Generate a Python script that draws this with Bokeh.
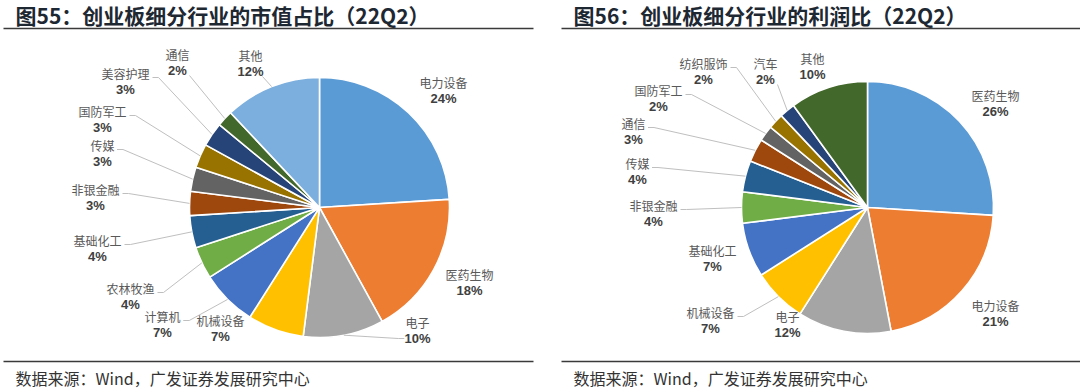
import numpy as np
from bokeh.plotting import figure
from bokeh.models import Range1d, ColumnDataSource
from bokeh.core.properties import value
from bokeh.embed import file_html
from bokeh.resources import INLINE

# ---------------- data ----------------
left_title = "图55：创业板细分行业的市值占比（22Q2）"
right_title = "图56：创业板细分行业的利润比（22Q2）"
source_note = "数据来源：Wind，广发证券发展研究中心"

left_names = ["电力设备", "医药生物", "电子", "机械设备", "计算机", "农林牧渔", "基础化工",
              "非银金融", "传媒", "国防军工", "美容护理", "通信", "其他"]
left_values = [24, 18, 10, 7, 7, 4, 4, 3, 3, 3, 3, 2, 12]

right_names = ["医药生物", "电力设备", "电子", "机械设备", "基础化工", "非银金融", "传媒",
               "通信", "国防军工", "纺织服饰", "汽车", "其他"]
right_values = [26, 21, 12, 7, 7, 4, 4, 3, 2, 2, 2, 10]

slice_colors = ["#5B9BD5", "#ED7D31", "#A5A5A5", "#FFC000", "#4472C4", "#70AD47", "#255E91",
                "#9E480E", "#636363", "#997300", "#264478", "#43682B", "#7CAFDD"]

# ---------------- layout (screen px) ----------------
W, H = 1080, 389
left_center, left_r = (319, 207), 130
right_center, right_r = (867, 207), 126

left_label_pos = [(443, 82), (469, 274), (417, 322), (220, 320), (162, 316), (130, 288), (97, 240),
                  (95, 189), (102, 145), (102, 111), (125, 73), (177, 54), (250, 55)]
left_leader = [None, None, "PL", None, "R", "R", "R", "R", "R", "R", "R", "B", "B"]

right_label_pos = [(995, 95), (995, 305), (787, 316), (710, 312), (712, 250), (653, 205), (637, 163),
                   (633, 123), (658, 90), (703, 63), (765, 63), (812, 58)]
right_leader = [None, None, None, "R", None, "R", "R", "R", "R", "R", "B", None]

CJK = value("Noto Sans CJK SC")
LAT = value("Liberation Sans")


def Y(ys):
    return H - np.asarray(ys, dtype=float)


p = figure(width=W, height=H, output_backend="svg", toolbar_location=None,
           x_range=Range1d(0, W), y_range=Range1d(0, H), min_border=0)
p.axis.visible = False
p.grid.visible = False
p.outline_line_color = None
p.background_fill_color = "white"
p.border_fill_color = "white"


def draw_pie(center, r, names, vals, label_pos, leaders):
    cx, cy = center
    v = np.asarray(vals, dtype=float)
    frac = v / v.sum()
    cum = np.concatenate([[0.0], np.cumsum(frac)])
    start = np.pi / 2 - cum[1:] * 2 * np.pi
    end = np.pi / 2 - cum[:-1] * 2 * np.pi
    src = ColumnDataSource(dict(start=start, end=end, color=slice_colors[:len(v)]))
    p.wedge(x=cx, y=H - cy, radius=r, start_angle="start", end_angle="end",
            fill_color="color", line_color="white", line_width=1.6, source=src)

    # leader lines
    mid = (cum[:-1] + cum[1:]) / 2 * 2 * np.pi   # clockwise from top
    xs_l, ys_l = [], []
    for i, mode in enumerate(leaders):
        if mode is None:
            continue
        tx = cx + r * np.sin(mid[i])
        ty = cy - r * np.cos(mid[i])
        lx, ly = label_pos[i]
        nw = len(names[i]) * 12.5
        pct_txt = f"{vals[i]}%"
        pw = len(pct_txt) * 7.5
        if mode == "R":
            ax, ay = lx + nw / 2 + 2, ly + 4
            pts = [(ax, ay), (ax + 6, ay), (tx, ty)]
        elif mode == "L":
            ax, ay = lx - nw / 2 - 2, ly + 4
            pts = [(ax, ay), (ax - 6, ay), (tx, ty)]
        elif mode == "PL":
            ax, ay = lx - pw / 2 - 2, ly + 16
            pts = [(ax, ay), (ax - 6, ay), (tx, ty)]
        else:  # "B"
            ax, ay = lx + 12, ly + 21
            pts = [(ax, ay), (tx, ty)]
        xs_l.append([q[0] for q in pts])
        ys_l.append(list(Y([q[1] for q in pts])))
    p.multi_line(xs=xs_l, ys=ys_l, line_color="#BFBFBF", line_width=1)

    lx = [q[0] for q in label_pos]
    ly = [q[1] for q in label_pos]
    p.text(x=lx, y=Y(ly), text=list(names), text_font=CJK, text_font_size="12px",
           text_color="#595959", text_align="center", text_baseline="middle")
    p.text(x=lx, y=Y(np.asarray(ly) + 16), text=[f"{int(round(x))}%" for x in vals], text_font=LAT,
           text_font_size="13px", text_font_style="bold", text_color="#404040",
           text_align="center", text_baseline="middle")


draw_pie(left_center, left_r, left_names, left_values, left_label_pos, left_leader)
draw_pie(right_center, right_r, right_names, right_values, right_label_pos, right_leader)

# titles
p.text(x=[15, 573], y=Y([14, 14]), text=[left_title, right_title], text_font=CJK,
       text_font_size="21px", text_font_style="bold", text_color="#1E2833",
       text_align="left", text_baseline="middle")
# rules
p.segment(x0=[3, 561, 3, 561], y0=Y([28, 28, 361, 361]), x1=[533, 1080, 533, 1080],
          y1=Y([28, 28, 361, 361]), line_color="#3A3A3A", line_width=1.6)
# source
p.text(x=[15, 573], y=Y([377, 377]), text=[source_note, source_note], text_font=CJK,
       text_font_size="16px", text_color="#333333", text_align="left", text_baseline="middle")

open("out.html", "w").write(file_html(p, INLINE))
